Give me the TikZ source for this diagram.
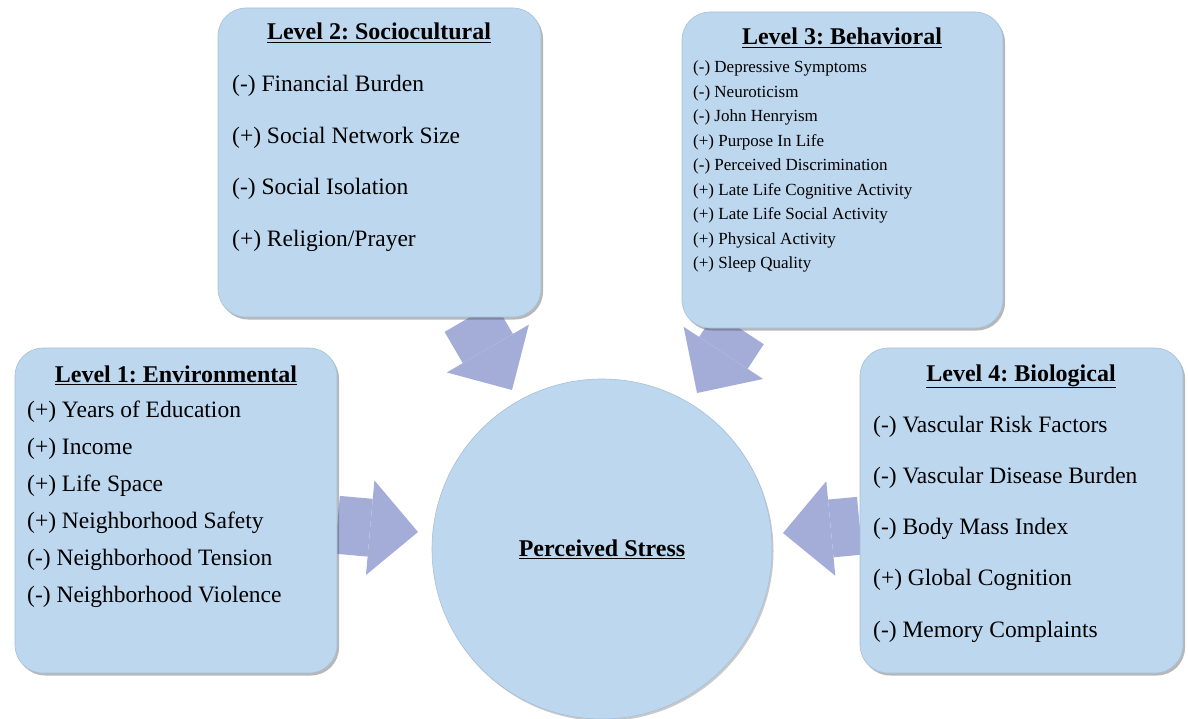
\documentclass[tikz,border=0pt]{standalone}
\usepackage{fontspec}
\setmainfont{Liberation Serif}
\usepackage{tikz}
\usetikzlibrary{arrows.meta,shadows,backgrounds}
\definecolor{boxblue}{HTML}{BDD7EE}
\definecolor{boxedge}{HTML}{A6C0DA}
\definecolor{arrowblue}{HTML}{A3ADD8}
\newcommand{\heading}[1]{\underline{\textbf{#1}}}
\frenchspacing

\begin{document}
\begin{tikzpicture}[x=1pt,y=-1pt,line join=round,
    levelbox/.style={draw=boxedge,fill=boxblue,line width=0.6pt,rounded corners=28pt,
      drop shadow={shadow xshift=2pt,shadow yshift=-2.5pt,fill=black!70,opacity=.4}},
    hub/.style={circle,draw=boxedge,fill=boxblue,line width=0.6pt,minimum size=340pt,
      drop shadow={shadow xshift=1.5pt,shadow yshift=-2pt,fill=black!70,opacity=.3},
      font=\fontsize{24}{28}\selectfont},
    title/.style={font=\fontsize{24}{28}\selectfont,anchor=base,inner sep=0pt},
    item/.style={font=\fontsize{23.5}{28}\selectfont,anchor=base west,inner sep=0pt},
    smallitem/.style={font=\fontsize{17}{20}\selectfont,anchor=base west,inner sep=0pt},
    fatarrow/.style={draw=arrowblue,line width=58pt,
      -{Triangle[width=95pt,length=48pt,line width=0pt]}}]
  \useasboundingbox (0,0) rectangle (1188,719);

  % the four levels
  \node[levelbox,minimum width=323pt,minimum height=309pt] (socio) at (379.5,162.5) {};
  \node[levelbox,minimum width=321pt,minimum height=316pt] (behav) at (842.5,170) {};
  \node[levelbox,minimum width=322pt,minimum height=325pt] (envir) at (176,510.5) {};
  \node[levelbox,minimum width=323pt,minimum height=325pt] (biolo) at (1021.5,510.5) {};

  % outcome
  \node[hub] (stress) at (602,549) {\heading{Perceived Stress}};

  % Level 2
  \node[title] (socio-title) at (379,40) {\heading{Level 2: Sociocultural}};
  \foreach \txt [count=\i] in {{(-) Financial Burden},{(+) Social Network Size},
      {(-) Social Isolation},{(+) Religion/Prayer}}
    \node[item] (socio-\i) at (232,{92+51.5*(\i-1)}) {\txt};

  % Level 3
  \node[title] (behav-title) at (842,45) {\heading{Level 3: Behavioral}};
  \foreach \txt [count=\i] in {{(-) Depressive Symptoms},{(-) Neuroticism},{(-) John Henryism},
      {(+) Purpose In Life},{(-) Perceived Discrimination},{(+) Late Life Cognitive Activity},
      {(+) Late Life Social Activity},{(+) Physical Activity},{(+) Sleep Quality}}
    \node[smallitem] (behav-\i) at (693,{73+24.5*(\i-1)}) {\txt};

  % Level 1
  \node[title] (envir-title) at (176,382) {\heading{Level 1: Environmental}};
  \foreach \txt [count=\i] in {{(+) Years of Education},{(+) Income},{(+) Life Space},
      {(+) Neighborhood Safety},{(-) Neighborhood Tension},{(-) Neighborhood Violence}}
    \node[item] (envir-\i) at (27,{417+37*(\i-1)}) {\txt};

  % Level 4
  \node[title] (biolo-title) at (1021,381) {\heading{Level 4: Biological}};
  \foreach \txt [count=\i] in {{(-) Vascular Risk Factors},{(-) Vascular Disease Burden},
      {(-) Body Mass Index},{(+) Global Cognition},{(-) Memory Complaints}}
    \node[item] (biolo-\i) at (873,{432+51.25*(\i-1)}) {\txt};

  % arrow tips stop short of the circle
  \coordinate (socio-tip) at (512,390);
  \coordinate (behav-tip) at (697,393);
  \coordinate (envir-tip) at (418,532);
  \coordinate (biolo-tip) at (783,533);

  \begin{scope}[on background layer]
    \draw[fatarrow] (socio) -- (socio-tip);
    \draw[fatarrow] (behav) -- (behav-tip);
    \draw[fatarrow] (envir) -- (envir-tip);
    \draw[fatarrow] (biolo) -- (biolo-tip);
  \end{scope}
\end{tikzpicture}
\end{document}
